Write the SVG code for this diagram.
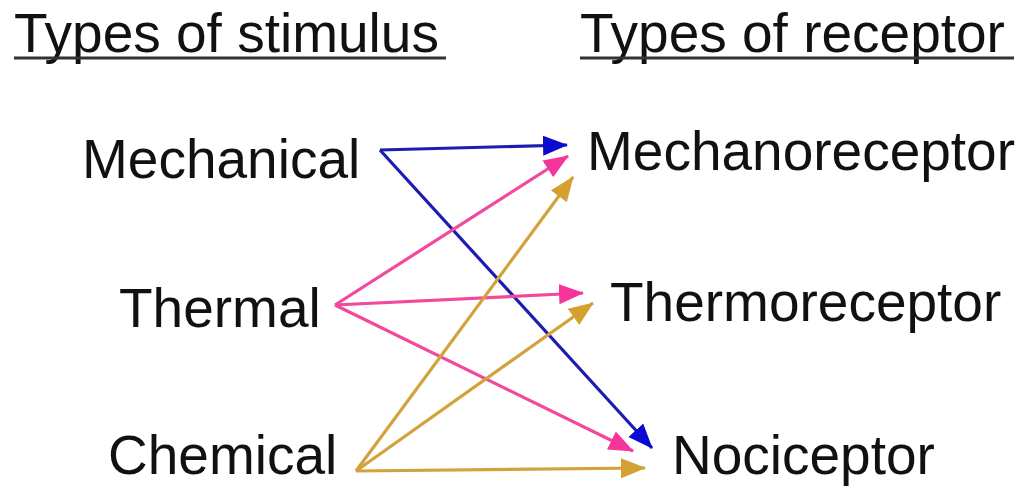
<svg xmlns="http://www.w3.org/2000/svg" width="1026" height="487" viewBox="0 0 1026 487">
<style>
text{font-family:"Liberation Sans",Arial,sans-serif;font-size:55px;fill:#111}
.ul{stroke:#333;stroke-width:3}
.c{fill:none;stroke-width:3.2;stroke-linecap:butt}
.b{stroke:#1c1cb0}.p{stroke:#f2499c}.g{stroke:#d4a23c}
</style>
<defs>
<marker id="ab" markerUnits="userSpaceOnUse" markerWidth="28" markerHeight="24" refX="24" refY="10" orient="auto"><path d="M0,0 L25,10 L0,20 z" fill="#0a0ad0"/></marker>
<marker id="ap" markerUnits="userSpaceOnUse" markerWidth="28" markerHeight="24" refX="24" refY="10" orient="auto"><path d="M0,0 L25,10 L0,20 z" fill="#f5359a"/></marker>
<marker id="ag" markerUnits="userSpaceOnUse" markerWidth="28" markerHeight="24" refX="24" refY="10" orient="auto"><path d="M0,0 L25,10 L0,20 z" fill="#d4a030"/></marker>
</defs>
<rect width="1026" height="487" fill="#fff"/>
<g id="title-stimulus"><text x="14" y="52">Types of stimulus</text><line class="ul" x1="14" y1="58" x2="446" y2="58"/></g>
<g id="title-receptor"><text x="580" y="52">Types of receptor</text><line class="ul" x1="580" y1="58" x2="1014" y2="58"/></g>
<g id="mechanical"><text x="82" y="178">Mechanical</text></g>
<g id="thermal"><text x="119" y="327">Thermal</text></g>
<g id="chemical"><text x="108" y="474">Chemical</text></g>
<g id="mechanoreceptor"><text x="587" y="170">Mechanoreceptor</text></g>
<g id="thermoreceptor"><text x="610" y="321">Thermoreceptor</text></g>
<g id="nociceptor"><text x="672" y="474">Nociceptor</text></g>
<g id="connectors">
<line class="c b" x1="380" y1="150" x2="567" y2="145" marker-end="url(#ab)"/>
<line class="c b" x1="380" y1="150" x2="652" y2="448" marker-end="url(#ab)"/>
<line class="c p" x1="335" y1="305" x2="568" y2="156" marker-end="url(#ap)"/>
<line class="c p" x1="335" y1="305" x2="583" y2="293" marker-end="url(#ap)"/>
<line class="c p" x1="335" y1="305" x2="633" y2="451" marker-end="url(#ap)"/>
<line class="c g" x1="356" y1="471" x2="573" y2="177" marker-end="url(#ag)"/>
<line class="c g" x1="356" y1="471" x2="593" y2="303" marker-end="url(#ag)"/>
<line class="c g" x1="356" y1="471" x2="645" y2="468" marker-end="url(#ag)"/>
</g>
</svg>
